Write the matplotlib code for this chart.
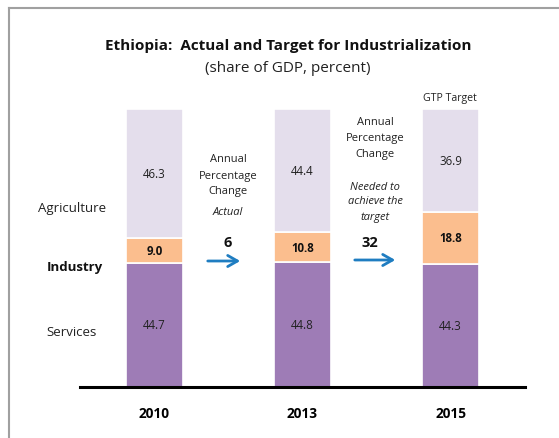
import matplotlib
matplotlib.use("Agg")
import matplotlib.pyplot as plt
from matplotlib.lines import Line2D

plt.rcParams['font.family'] = ['Open Sans', 'DejaVu Sans']

years = ["2010", "2013", "2015"]
services = [44.7, 44.8, 44.3]
industry = [9.0, 10.8, 18.8]
agriculture = [46.3, 44.4, 36.9]
sector_names = ["Services", "Industry", "Agriculture"]
growth_actual = 6
growth_needed = 32

W, H = 559, 439
fig = plt.figure(figsize=(W / 100, H / 100), dpi=100)

# axes placed in pixel terms: baseline at y=388, from x=80 to x=525
ax_left, ax_right, ax_bottom, ax_top = 80, 525, 388, 20
ax = fig.add_axes([ax_left / W, 1 - ax_bottom / H,
                   (ax_right - ax_left) / W, (ax_bottom - ax_top) / H])
px_per_unit = 2.78
ax.set_ylim(0, (ax_bottom - ax_top) / px_per_unit)
ax.set_xlim(-0.503, 2.503)

col_serv = "#9E7CB6"
col_ind = "#FBBE8E"
col_agr = "#E4DEEC"

x = list(range(len(years)))
bw = 0.385
ax.bar(x, services, bw, color=col_serv, edgecolor="white", linewidth=1.2)
ax.bar(x, industry, bw, bottom=services, color=col_ind, edgecolor="white", linewidth=1.2)
bottom_agr = [s + i for s, i in zip(services, industry)]
ax.bar(x, agriculture, bw, bottom=bottom_agr, color=col_agr, edgecolor="white", linewidth=1.2)

for xi, s, i, a in zip(x, services, industry, agriculture):
    ax.text(xi, s / 2, f"{s:.1f}", ha="center", va="center", fontsize=8.3, color="#222222")
    ax.text(xi, s + i / 2, f"{i:.1f}", ha="center", va="center", fontsize=8.3,
            fontweight="bold", color="#111111")
    ax.text(xi, s + i + a / 2, f"{a:.1f}", ha="center", va="center", fontsize=8.3,
            color="#222222")

for sp in ["top", "right", "left"]:
    ax.spines[sp].set_visible(False)
ax.spines["bottom"].set_linewidth(2.2)
ax.spines["bottom"].set_color("black")
ax.set_yticks([])
ax.set_xticks(x)
ax.set_xticklabels(years, fontsize=9.8, fontweight="bold")
ax.tick_params(axis="x", length=0, pad=14)


def dx(px):
    return (px - 154.5) / 148.0


def dy(py):
    return (ax_bottom - py) / px_per_unit


# sector labels at left
ax.text(dx(72), dy(209), sector_names[2], ha="center", va="center", fontsize=9.5, color="#222222")
ax.text(dx(75), dy(268), sector_names[1], ha="center", va="center", fontsize=9.5,
        fontweight="bold", color="#111111")
ax.text(dx(72), dy(333), sector_names[0], ha="center", va="center", fontsize=9.5, color="#222222")

# growth annotations
for py, t in zip([160, 176, 192], ["Annual", "Percentage", "Change"]):
    ax.text(dx(228), dy(py), t, ha="center", va="center", fontsize=8, color="#222222")
ax.text(dx(228), dy(213), "Actual", ha="center", va="center", fontsize=8,
        style="italic", color="#222222")
ax.text(dx(228), dy(243), str(growth_actual), ha="center", va="center", fontsize=10.5,
        fontweight="bold", color="#111111")

for py, t in zip([123, 139, 155], ["Annual", "Percentage", "Change"]):
    ax.text(dx(375), dy(py), t, ha="center", va="center", fontsize=8, color="#222222")
for py, t in zip([187, 202, 218], ["Needed to", "achieve the", "target"]):
    ax.text(dx(375), dy(py), t, ha="center", va="center", fontsize=8,
            style="italic", color="#222222")
ax.text(dx(370), dy(243), str(growth_needed), ha="center", va="center", fontsize=10.5,
        fontweight="bold", color="#111111")

arrow_col = "#1F7DC1"
for x0, x1, py in [(205, 243, 262), (352, 398, 261)]:
    ax.annotate("", xy=(dx(x1), dy(py)), xytext=(dx(x0), dy(py)),
                arrowprops=dict(arrowstyle="->,head_length=0.7,head_width=0.4",
                                color=arrow_col, lw=2),
                annotation_clip=False)

ax.text(dx(450), dy(98), "GTP Target", ha="center", va="center", fontsize=7.6, color="#222222")

# title
fig.text(288 / W, 1 - 46 / H, "Ethiopia:  Actual and Target for Industrialization",
         ha="center", va="center", fontsize=11, fontweight="bold", color="#111111")
fig.text(288 / W, 1 - 68 / H, "(share of GDP, percent)", ha="center", va="center",
         fontsize=11, color="#222222")

# frame lines along the left and top
fig.add_artist(Line2D([8.5 / W, 8.5 / W], [0, 1 - 8.5 / H], transform=fig.transFigure,
                      color="#A0A0A0", lw=1.5))
fig.add_artist(Line2D([8.5 / W, 1], [1 - 8.5 / H, 1 - 8.5 / H], transform=fig.transFigure,
                      color="#A0A0A0", lw=1.5))

fig.savefig("out.png", dpi=100, facecolor="white")
